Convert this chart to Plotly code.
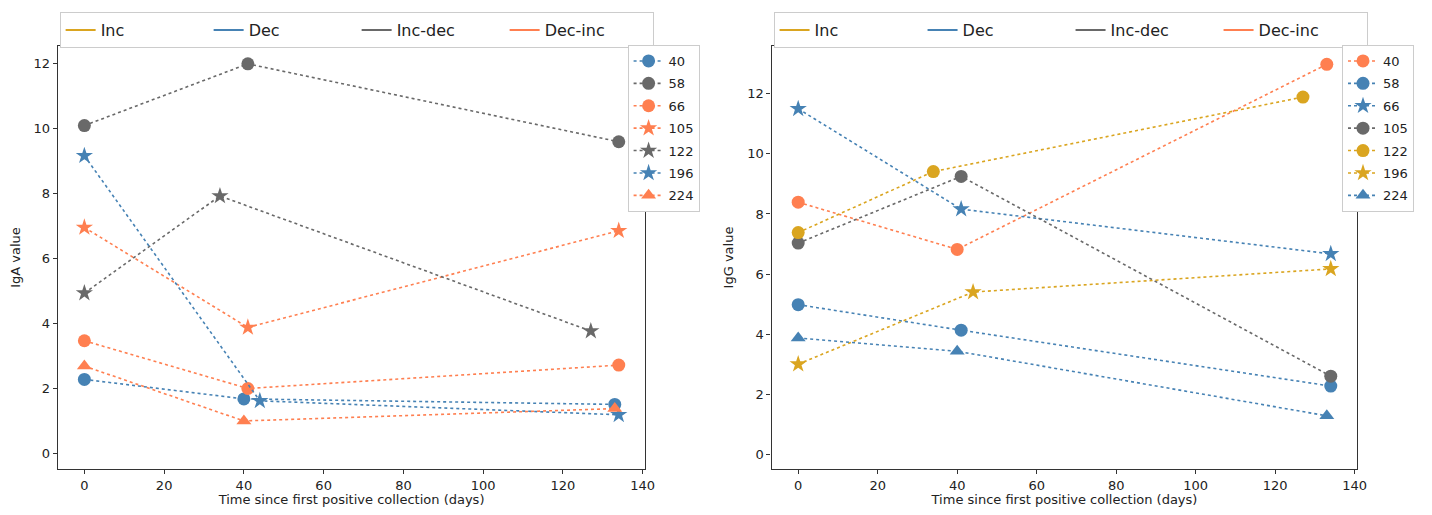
import plotly.graph_objects as go

# ---- data ----
patients = ["40", "58", "66", "105", "122", "196", "224"]

iga_days = {
    "40": [0, 40, 133], "58": [0, 41, 134], "66": [0, 41, 134], "105": [0, 41, 134],
    "122": [0, 34, 127], "196": [0, 44, 134], "224": [0, 40, 133],
}
iga_vals = {
    "40": [2.28, 1.68, 1.51], "58": [10.1, 12.0, 9.6], "66": [3.47, 2.0, 2.72],
    "105": [6.96, 3.88, 6.86], "122": [4.94, 7.93, 3.77], "196": [9.17, 1.62, 1.19],
    "224": [2.69, 1.0, 1.38],
}
iga_group = {"40": "Dec", "58": "Inc-dec", "66": "Dec-inc", "105": "Dec-inc",
             "122": "Inc-dec", "196": "Dec", "224": "Dec-inc"}
iga_symbol = {"40": "circle", "58": "circle", "66": "circle", "105": "star",
              "122": "star", "196": "star", "224": "triangle-up"}

igg_days = {
    "40": [0, 40, 133], "58": [0, 41, 134], "66": [0, 41, 134], "105": [0, 41, 134],
    "122": [0, 34, 127], "196": [0, 44, 134], "224": [0, 40, 133],
}
igg_vals = {
    "40": [8.39, 6.82, 12.98], "58": [4.98, 4.13, 2.27], "66": [11.5, 8.16, 6.67],
    "105": [7.03, 9.25, 2.6], "122": [7.38, 9.41, 11.89], "196": [3.0, 5.4, 6.17],
    "224": [3.87, 3.43, 1.28],
}
igg_group = {"40": "Dec-inc", "58": "Dec", "66": "Dec", "105": "Inc-dec",
             "122": "Inc", "196": "Inc", "224": "Dec"}
igg_symbol = {"40": "circle", "58": "circle", "66": "star", "105": "circle",
              "122": "circle", "196": "star", "224": "triangle-up"}

groups = ["Inc", "Dec", "Inc-dec", "Dec-inc"]
group_colors = {"Inc": "#DAA520", "Dec": "#4682B4", "Inc-dec": "#696969", "Dec-inc": "#FF7F50"}
marker_sizes = {"circle": 13, "star": 13, "triangle-up": 13}

FONT = "DejaVu Sans"
OFF = 8                      # default page body margin
W, H = 1432 - 2 * OFF, 515 - 2 * OFF


def px_x(p):
    return (p - OFF) / W


def px_y(p):
    return 1 - (p - OFF) / H


fig = go.Figure()


def add_panel(days, vals, grp, sym, xa, ya, top_legend, side_legend, tag):
    for g in groups:
        fig.add_trace(go.Scatter(
            x=[None], y=[None], mode="lines", name=g,
            line=dict(color=group_colors[g], width=2),
            xaxis=xa, yaxis=ya, legend=top_legend, hoverinfo="skip"))
    for p in patients:
        c = group_colors[grp[p]]
        fig.add_trace(go.Scatter(
            x=days[p], y=vals[p], mode="lines+markers", name=p,
            legendgroup=tag + p,
            line=dict(color=c, width=1.6, dash="dot"),
            marker=dict(symbol=sym[p], size=marker_sizes[sym[p]], color=c,
                        line=dict(width=0)),
            xaxis=xa, yaxis=ya, legend=side_legend))


add_panel(iga_days, iga_vals, iga_group, iga_symbol, "x", "y", "legend", "legend2", "a")
add_panel(igg_days, igg_vals, igg_group, igg_symbol, "x2", "y2", "legend3", "legend4", "g")

axis_common = dict(
    showline=True, mirror=True, linecolor="#333333", linewidth=1.2,
    ticks="outside", ticklen=4, tickcolor="#333333", showgrid=False, zeroline=False,
    tickfont=dict(family=FONT, size=13, color="#222222"),
)
xt = [0, 20, 40, 60, 80, 100, 120, 140]
ydom = [px_y(469), px_y(46)]

side_leg = dict(font=dict(family=FONT, size=13, color="#222222"),
                bgcolor="white", bordercolor="#cccccc", borderwidth=1,
                tracegroupgap=2.5, itemwidth=30, yanchor="top")
top_leg = dict(orientation="h", xanchor="left", yanchor="top",
               entrywidth=103, entrywidthmode="pixels",
               font=dict(family=FONT, size=16, color="#222222"),
               bgcolor="white", bordercolor="#cccccc", borderwidth=1, itemwidth=30)

fig.update_layout(
    width=W, height=H,
    paper_bgcolor="white", plot_bgcolor="white",
    margin=dict(l=0, r=0, t=0, b=0),
    font=dict(family=FONT, size=13, color="#222222"),
    xaxis=dict(domain=[px_x(58), px_x(650)], range=[-6.7, 140.7], tickvals=xt, anchor="y",
               title=dict(text="Time since first positive collection (days)",
                          font=dict(size=13), standoff=5), **axis_common),
    yaxis=dict(domain=ydom, range=[-0.48, 12.55], tickvals=[0, 2, 4, 6, 8, 10, 12], anchor="x",
               title=dict(text="IgA value", font=dict(size=13), standoff=10), **axis_common),
    xaxis2=dict(domain=[px_x(777), px_x(1367)], range=[-6.7, 140.7], tickvals=xt, anchor="y2",
                title=dict(text="Time since first positive collection (days)",
                           font=dict(size=13), standoff=5), **axis_common),
    yaxis2=dict(domain=ydom, range=[-0.49, 13.59], tickvals=[0, 2, 4, 6, 8, 10, 12], anchor="x2",
                title=dict(text="IgG value", font=dict(size=13), standoff=10), **axis_common),
    legend=dict(x=px_x(60), y=px_y(12), **top_leg),
    legend2=dict(x=px_x(632), y=px_y(45), xanchor="left", **side_leg),
    legend3=dict(x=px_x(779), y=px_y(12), **top_leg),
    legend4=dict(x=1.0, y=px_y(45), xanchor="right", **side_leg),
    showlegend=True,
)

fig.write_html("out.html", config={"displayModeBar": False})
